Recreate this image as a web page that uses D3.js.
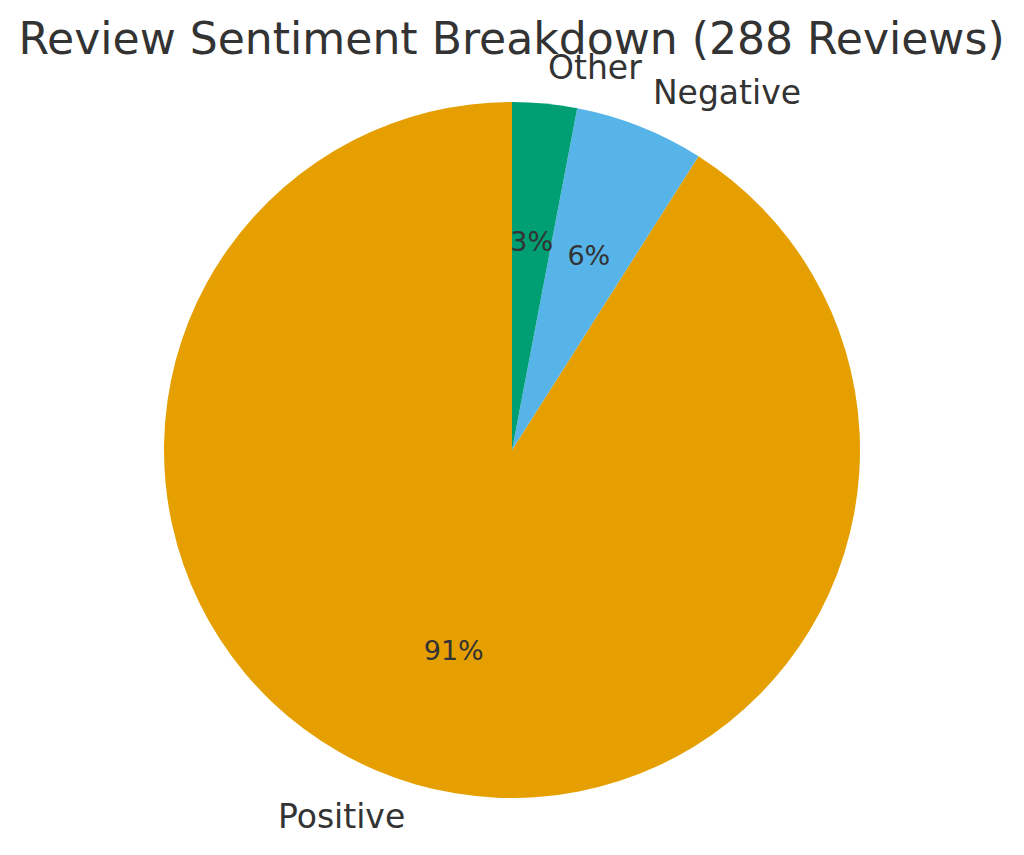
<!DOCTYPE html>
<html>
<head>
<meta charset="utf-8">
<script src="https://cdn.jsdelivr.net/npm/d3@7"></script>
<style>
  body { margin: 0; background: #fff; }
  text { font-family: "DejaVu Sans", sans-serif; fill: #333333; }
</style>
</head>
<body>
<div id="vis-holder"></div>
<script>
// data
const categories = ["Positive", "Negative", "Other"];
const shares = [91, 6, 3];
const colors = ["#E69F00", "#56B4E9", "#009E73"];

const w = 1024;
const h = 855;
const cx = 512, cy = 450;
const radius = 348;

const svg = d3.select("#vis-holder").append("svg")
    .attr("width", w)
    .attr("height", h);

svg.append("text")
    .attr("x", 511.5)
    .attr("y", 53.5)
    .attr("text-anchor", "middle")
    .style("font-size", "44.1px")
    .text("Review Sentiment Breakdown (288 Reviews)");

const data = categories.map((c, i) => ({ name: c, value: shares[i], color: colors[i] }));

// matplotlib style: start at top, go counter-clockwise
const pie = d3.pie()
    .sort(null)
    .value(d => d.value)
    .startAngle(0)
    .endAngle(-2 * Math.PI);

const arcs = pie(data);

const g = svg.append("g").attr("transform", "translate(" + cx + "," + cy + ")");

const arc = d3.arc().innerRadius(0).outerRadius(radius);

g.selectAll("path")
    .data(arcs)
    .enter()
    .append("path")
    .attr("d", arc)
    .attr("fill", d => d.data.color);

const total = d3.sum(shares);

function pos(d, r) {
    const a = (d.startAngle + d.endAngle) / 2;
    return [r * Math.sin(a), -r * Math.cos(a)];
}

// percentages
g.selectAll("text.pct")
    .data(arcs)
    .enter()
    .append("text")
    .attr("class", "pct")
    .attr("x", d => pos(d, radius * 0.6)[0])
    .attr("y", d => pos(d, radius * 0.6)[1])
    .attr("dy", "0.34em")
    .attr("text-anchor", "middle")
    .style("font-size", "27px")
    .text(d => Math.round(d.data.value / total * 100) + "%");

// category labels
g.selectAll("text.lab")
    .data(arcs)
    .enter()
    .append("text")
    .attr("class", "lab")
    .attr("x", d => pos(d, radius * 1.1)[0])
    .attr("y", d => pos(d, radius * 1.1)[1])
    .attr("dy", "0.3em")
    .attr("text-anchor", d => pos(d, 1)[0] > 0 ? "start" : "end")
    .style("font-size", "33px")
    .text(d => d.data.name);
</script>
</body>
</html>
